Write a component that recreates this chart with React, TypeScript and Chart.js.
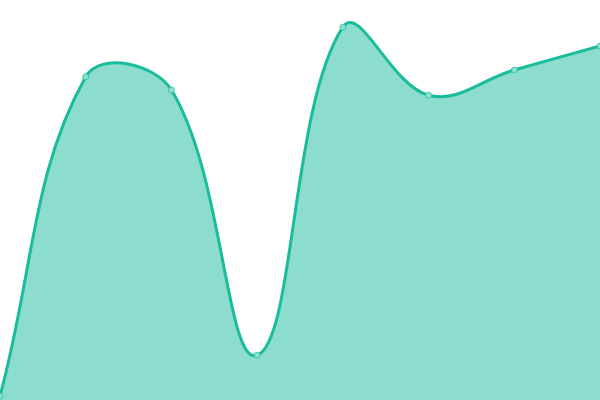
import { useEffect, useRef } from "react";
import { Chart, registerables } from "chart.js";

Chart.register(...registerables);

const LABELS = ["1", "2", "3", "4", "5", "6", "7", "8"];
const VALUES = [1, 80.8, 77.5, 11.2, 93.2, 76.2, 82.5, 88.5];

const LINE = "#1abc9c";
const FILL = "rgba(26, 188, 156, 0.5)";
// Chart.js insets the chart area by the point overflow; push the canvas out by that much
const OVERFLOW = 5;

export default function App() {
  const canvasRef = useRef<HTMLCanvasElement | null>(null);

  useEffect(() => {
    document.body.style.margin = "0";
    const canvas = canvasRef.current;
    if (!canvas) return;
    const chart = new Chart(canvas, {
      type: "line",
      data: {
        labels: LABELS,
        datasets: [
          {
            data: VALUES,
            borderColor: LINE,
            backgroundColor: FILL,
            pointBackgroundColor: "#8fe0d0",
            pointBorderColor: "rgba(26, 188, 156, 0.7)",
            pointBorderWidth: 1,
            pointRadius: 3,
            borderWidth: 3,
            tension: 0.4,
            fill: true,
          },
        ],
      },
      options: {
        animation: false,
        responsive: true,
        maintainAspectRatio: false,
        layout: { padding: 0 },
        plugins: { legend: { display: false }, tooltip: { enabled: false } },
        scales: {
          x: { display: false },
          y: { display: false, min: 0, max: 100 },
        },
      },
    });
    return () => chart.destroy();
  }, []);

  return (
    <div style={{ width: 600, height: 400, position: "relative", overflow: "hidden" }}>
      <div
        style={{
          position: "absolute",
          left: -OVERFLOW,
          top: -OVERFLOW,
          width: 600 + OVERFLOW * 2,
          height: 400 + OVERFLOW * 2,
        }}
      >
        <canvas ref={canvasRef} />
      </div>
    </div>
  );
}
